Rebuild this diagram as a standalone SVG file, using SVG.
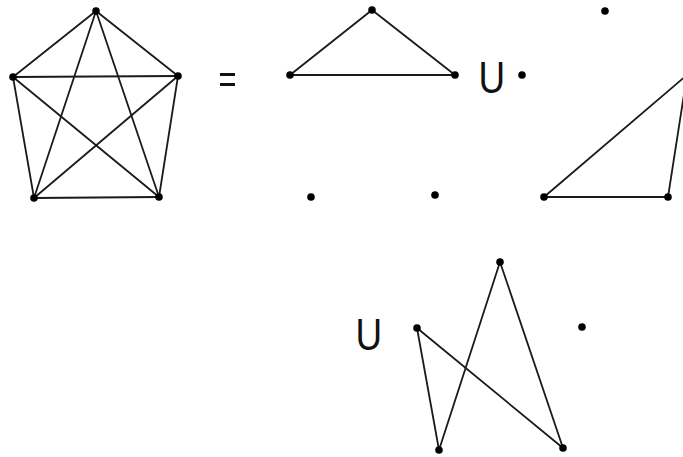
<svg xmlns="http://www.w3.org/2000/svg" width="683" height="457" viewBox="0 0 683 457">
<style>
.e{stroke:#1a1a1a;stroke-width:1.8;fill:none;stroke-linecap:round}
.v{fill:#000}
.t{font-family:"Liberation Sans",Arial,sans-serif;font-size:45px;fill:#111}
</style>
<rect width="683" height="457" fill="#fff"/>
<g id="connectors">
<g id="k5-edges" class="e">
<line x1="96" y1="11" x2="13" y2="77"/>
<line x1="96" y1="11" x2="178" y2="76"/>
<line x1="96" y1="11" x2="34" y2="198"/>
<line x1="96" y1="11" x2="159" y2="197"/>
<line x1="13" y1="77" x2="178" y2="76"/>
<line x1="13" y1="77" x2="34" y2="198"/>
<line x1="13" y1="77" x2="159" y2="197"/>
<line x1="178" y1="76" x2="34" y2="198"/>
<line x1="178" y1="76" x2="159" y2="197"/>
<line x1="34" y1="198" x2="159" y2="197"/>
</g>
<g id="tri1-edges" class="e">
<line x1="372" y1="10" x2="290" y2="75"/>
<line x1="372" y1="10" x2="455" y2="75"/>
<line x1="290" y1="75" x2="455" y2="75"/>
</g>
<g id="tri2-edges" class="e">
<line x1="544" y1="197" x2="668" y2="197"/>
<line x1="544" y1="197" x2="687" y2="75"/>
<line x1="668" y1="197" x2="687" y2="75"/>
</g>
<g id="z-edges" class="e">
<line x1="417" y1="328" x2="439" y2="450"/>
<line x1="417" y1="328" x2="563" y2="448"/>
<line x1="500" y1="262" x2="439" y2="450"/>
<line x1="500" y1="262" x2="563" y2="448"/>
</g>
</g>
<g id="k5">
<circle id="k5-a" class="v" cx="96" cy="11" r="3.8"/>
<circle id="k5-b" class="v" cx="13" cy="77" r="3.8"/>
<circle id="k5-c" class="v" cx="178" cy="76" r="3.8"/>
<circle id="k5-d" class="v" cx="34" cy="198" r="3.8"/>
<circle id="k5-e" class="v" cx="159" cy="197" r="3.8"/>
</g>
<g id="equals">
<rect x="220" y="73" width="15" height="3" fill="#111"/>
<rect x="220" y="83" width="15" height="3" fill="#111"/>
</g>
<g id="g1">
<circle class="v" cx="372" cy="10" r="3.8"/>
<circle class="v" cx="290" cy="75" r="3.8"/>
<circle class="v" cx="455" cy="75" r="3.8"/>
<circle class="v" cx="311" cy="197" r="3.8"/>
<circle class="v" cx="435" cy="195" r="3.8"/>
</g>
<g id="union1">
<text class="t" transform="translate(478.5,93) scale(0.82,1)">U</text>
</g>
<g id="g2">
<circle class="v" cx="522" cy="75" r="3.8"/>
<circle class="v" cx="605" cy="11" r="3.8"/>
<circle class="v" cx="544" cy="197" r="3.8"/>
<circle class="v" cx="668" cy="197" r="3.8"/>
</g>
<g id="union2">
<text class="t" transform="translate(355.5,350) scale(0.82,1)">U</text>
</g>
<g id="g3">
<circle class="v" cx="500" cy="262" r="3.8"/>
<circle class="v" cx="417" cy="328" r="3.8"/>
<circle class="v" cx="439" cy="450" r="3.8"/>
<circle class="v" cx="563" cy="448" r="3.8"/>
<circle class="v" cx="582" cy="327" r="3.8"/>
</g>
</svg>
